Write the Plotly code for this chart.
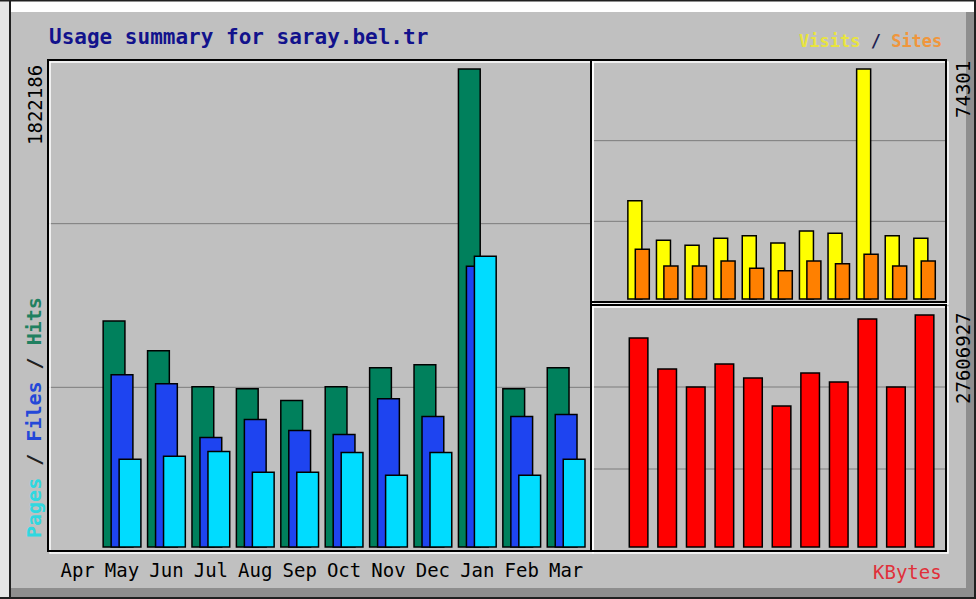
import plotly.graph_objects as go

W, H = 976, 599

# ── data ────────────────────────────────────────────
months = ['Apr', 'May', 'Jun', 'Jul', 'Aug', 'Sep', 'Oct', 'Nov', 'Dec', 'Jan', 'Feb', 'Mar']
hits   = [None, 861700, 747900, 611200, 603600, 558000, 611200, 683300, 694700, 1822186, 603600, 683300]
files  = [None, 656700, 622600, 417600, 485900, 444200, 429000, 565600, 497300, 1070500, 497300, 504900]
pages  = [None, 334100, 345500, 364400, 284700, 284700, 360600, 273300, 360600, 1108500, 273300, 334100]
visits = [None, 31760, 18960, 17350, 19610, 20450, 18090, 21970, 21220, 74301, 20450, 19610]
sites  = [None, 16050, 10660, 10660, 12280, 9920, 9140, 12280, 11400, 14440, 10660, 12280]
kbytes = [None, 24870000, 21180000, 19040000, 21780000, 20110000, 16780000, 20700000, 19630000, 27130000, 19040000, 27606927]

GREY = '#c0c0c0'
MONO = 'DejaVu Sans Mono'
idx = list(range(len(months)))


def px(x):
    return x / W


def py(y):
    return 1 - y / H


def top(vals):
    return max(v for v in vals if v is not None)


fig = go.Figure()
edge = dict(color='black', width=1.5)

# ── left panel: hits / files / pages ────────────────
for vals, col, shift in [(hits, '#00805c', -0.18), (files, '#1e44f0', 0.0), (pages, '#00dcff', 0.18)]:
    fig.add_trace(go.Bar(x=[i + shift for i in idx], y=vals, width=0.49,
                         marker=dict(color=col, line=edge), xaxis='x', yaxis='y'))

# ── right top: visits / sites ───────────────────────
for vals, col, shift in [(visits, '#ffff00', -0.13), (sites, '#ff8000', 0.13)]:
    fig.add_trace(go.Bar(x=[i + shift for i in idx], y=vals, width=0.49,
                         marker=dict(color=col, line=edge), xaxis='x2', yaxis='y2'))

# ── right bottom: kbytes ────────────────────────────
fig.add_trace(go.Bar(x=idx, y=kbytes, width=0.65,
                     marker=dict(color='#ff0000', line=edge), xaxis='x3', yaxis='y3'))

# y ranges: bar baseline a few px above the frame, max bar near the top
l_per = top(hits) / 478
rt_per = top(visits) / 230
rb_per = top(kbytes) / 232

noax = dict(showgrid=False, zeroline=False, showline=False, showticklabels=False, ticks='')

fig.update_layout(
    width=W, height=H,
    margin=dict(l=0, r=0, t=0, b=0),
    paper_bgcolor=GREY, plot_bgcolor=GREY,
    barmode='overlay', showlegend=False,
    xaxis=dict(domain=[px(48), px(591)], range=[-0.667, 11.56], anchor='y',
               showgrid=False, zeroline=False, showline=False, ticks='',
               tickvals=idx, ticktext=months, ticklabelstandoff=6,
               tickfont=dict(family=MONO, size=19, color='black')),
    yaxis=dict(domain=[py(551), py(60)], range=[-4 * l_per, 487 * l_per], anchor='x', **noax),
    xaxis2=dict(domain=[px(591), px(946)], range=[-0.664, 11.75], anchor='y2', **noax),
    yaxis2=dict(domain=[py(302), py(60)], range=[-3 * rt_per, 239 * rt_per], anchor='x2', **noax),
    xaxis3=dict(domain=[px(591), px(946)], range=[-0.664, 11.75], anchor='y3', **noax),
    yaxis3=dict(domain=[py(551), py(305)], range=[-4 * rb_per, 242 * rb_per], anchor='x3', **noax),
)

shapes = []
# grid lines at thirds
for xr, yr in [('x', 'y'), ('x2', 'y2'), ('x3', 'y3')]:
    for f in (1 / 3, 2 / 3):
        shapes.append(dict(type='line', xref=xr + ' domain', yref=yr + ' domain',
                           x0=0, x1=1, y0=f, y1=f, layer='below',
                           line=dict(color='#7c7c7c', width=1)))

# engraved frames
for x0, y0, x1, y1 in [(48, 60, 591, 551), (591, 60, 946, 302), (591, 305, 946, 551)]:
    shapes.append(dict(type='rect', xref='paper', yref='paper',
                       x0=px(x0 + 2), x1=px(x1 + 2), y0=py(y0 + 2), y1=py(y1 + 2),
                       line=dict(color='white', width=1.5)))
    shapes.append(dict(type='rect', xref='paper', yref='paper',
                       x0=px(x0), x1=px(x1), y0=py(y0), y1=py(y1),
                       line=dict(color='black', width=2)))

# outer bevel
def band(x0, y0, x1, y1, col):
    return dict(type='rect', xref='paper', yref='paper', layer='below',
                x0=px(x0), x1=px(x1), y0=py(y0), y1=py(y1),
                fillcolor=col, line=dict(width=0))

shapes += [
    band(0, 0, 10, 599, '#e6e6e6'),
    band(10, 1, 976, 12, 'white'),
    band(10, 588, 976, 597, '#8e8e8e'),
    band(966, 12, 974, 597, '#8e8e8e'),
    band(0, 0, 976, 1.5, '#202020'),
    band(9, 0, 11, 599, '#202020'),
    band(0, 597, 976, 599, '#202020'),
    band(974, 0, 976, 599, '#202020'),
]
fig.update_layout(shapes=shapes)

ann = [
    dict(x=px(47), y=py(37), xanchor='left', yanchor='middle',
         text='<b>Usage summary for saray.bel.tr</b>',
         font=dict(family=MONO, size=21, color='#12128c')),
    dict(x=px(944), y=py(41), xanchor='right', yanchor='middle',
         text='<b><span style="color:#e8e440">Visits</span> / <span style="color:#f0963c">Sites</span></b>',
         font=dict(family=MONO, size=17, color='#202050')),
    dict(x=px(944), y=py(572), xanchor='right', yanchor='middle', text='KBytes',
         font=dict(family=MONO, size=19, color='#e0303a')),
    dict(x=px(35), y=py(105), xanchor='center', yanchor='middle', textangle=-90,
         text=str(top(hits)), font=dict(family=MONO, size=19, color='black')),
    dict(x=px(963), y=py(90), xanchor='center', yanchor='middle', textangle=-90,
         text=str(top(visits)), font=dict(family=MONO, size=19, color='black')),
    dict(x=px(963), y=py(358), xanchor='center', yanchor='middle', textangle=-90,
         text=str(top(kbytes)), font=dict(family=MONO, size=19, color='black')),
    dict(x=px(34), y=py(418), xanchor='center', yanchor='middle', textangle=-90,
         text='<b><span style="color:#30d8e0">Pages</span> / <span style="color:#2448d8">Files</span>'
              ' / <span style="color:#208060">Hits</span></b>',
         font=dict(family=MONO, size=20, color='#202020')),
]
for a in ann:
    a.update(xref='paper', yref='paper', showarrow=False)
fig.update_layout(annotations=ann)

# the browser's default 8px body margin would shift the whole graphic
fig.write_html('out.html', config={'displayModeBar': False},
               post_script="document.body.style.margin='0px';")
